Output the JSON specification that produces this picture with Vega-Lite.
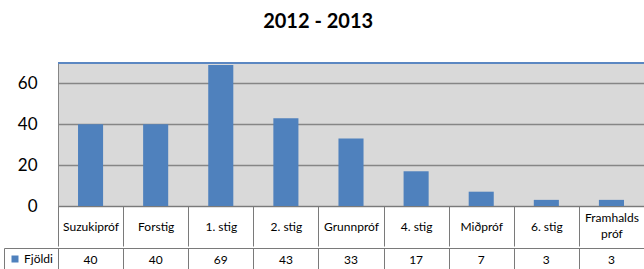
{
  "$schema": "https://vega.github.io/schema/vega-lite/v6.json",
  "padding": {"left": 3, "top": 11, "right": 0, "bottom": 0},
  "background": "#ffffff",
  "title": {"text": "2012 - 2013", "fontSize": 20, "font": "Lato", "fontWeight": "bold", "color": "#000000", "anchor": "middle", "offset": 30, "dx": -6},
  "config": {"font": "Lato", "view": {"stroke": null}},
  "datasets": {
    "d": [
      {"kat": "Suzukipróf", "fjoldi": 40},
      {"kat": "Forstig", "fjoldi": 40},
      {"kat": "1. stig", "fjoldi": 69},
      {"kat": "2. stig", "fjoldi": 43},
      {"kat": "Grunnpróf", "fjoldi": 33},
      {"kat": "4. stig", "fjoldi": 17},
      {"kat": "Miðpróf", "fjoldi": 7},
      {"kat": "6. stig", "fjoldi": 3},
      {"kat": "Framhalds próf", "fjoldi": 3}
    ]
  },
  "resolve": {"legend": {"color": "independent"}},
  "spacing": 0,
  "vconcat": [
    {
      "width": 586,
      "height": 143,
      "data": {"name": "d"},
      "view": {"fill": "#d9d9d9", "stroke": "#868686", "strokeWidth": 1},
      "encoding": {
        "x": {
          "field": "kat", "type": "nominal", "sort": null,
          "scale": {"paddingInner": 0, "paddingOuter": 0},
          "axis": {
            "title": null, "labelAngle": 0, "labelFontSize": 12, "labelColor": "#000000",
            "labelBaseline": {"condition": {"test": "datum.value == 'Framhalds próf'", "value": "line-bottom"}, "value": "middle"},
            "labelPadding": -20, "labelLimit": 0, "labelLineHeight": 16,
            "labelExpr": "datum.label == 'Framhalds próf' ? ['Framhalds', 'próf'] : datum.label",
            "tickBand": "extent", "tickSize": 40, "tickColor": "#7a7a7a", "tickWidth": 1,
            "domainColor": "#7a7a7a", "domainWidth": 1, "grid": false
          }
        },
        "y": {
          "field": "fjoldi", "type": "quantitative",
          "scale": {"domain": [0, 70], "nice": false},
          "axis": {
            "title": null, "values": [0, 20, 40, 60], "labelFontSize": 17, "labelColor": "#000000",
            "labelPadding": 21, "ticks": false, "domain": false,
            "gridColor": "#868686", "gridWidth": 1.5, "gridOpacity": 1
          }
        }
      },
      "layer": [
        {"mark": {"type": "bar", "color": "#4f81bd", "width": {"band": 0.385}}},
        {
          "mark": {"type": "rule", "color": "#5b87c2", "strokeWidth": 1.5},
          "encoding": {"y": {"datum": 70}, "x": null}
        }
      ]
    },
    {
      "width": 586,
      "height": 24,
      "data": {"name": "d"},
      "view": {"stroke": "#7a7a7a", "strokeWidth": 1},
      "layer": [
        {
          "mark": {"type": "text", "fontSize": 12, "color": "#000000"},
          "encoding": {
            "x": {
              "field": "kat", "type": "nominal", "sort": null,
              "scale": {"paddingInner": 0, "paddingOuter": 0},
              "axis": {
                "orient": "top", "title": null, "labels": false, "ticks": false, "domain": false,
                "grid": true, "tickBand": "extent", "gridColor": "#7a7a7a", "gridWidth": 1, "gridOpacity": 1
              }
            },
            "text": {"field": "fjoldi", "type": "quantitative"}
          }
        },
        {
          "transform": [{"filter": "false"}],
          "mark": {"type": "square"},
          "encoding": {
            "color": {
              "datum": "Fjöldi",
              "scale": {"domain": ["Fjöldi"], "range": ["#4f81bd"]},
              "legend": {
                "orient": "left", "offset": 0, "title": null, "strokeColor": "#7a7a7a",
                "padding": 5, "symbolOffset": 0, "symbolType": "square", "symbolSize": 49, "symbolStrokeWidth": 0,
                "symbolOpacity": 1, "labelFontSize": 12, "labelColor": "#000000", "labelOffset": 3
              }
            }
          }
        }
      ]
    }
  ]
}
